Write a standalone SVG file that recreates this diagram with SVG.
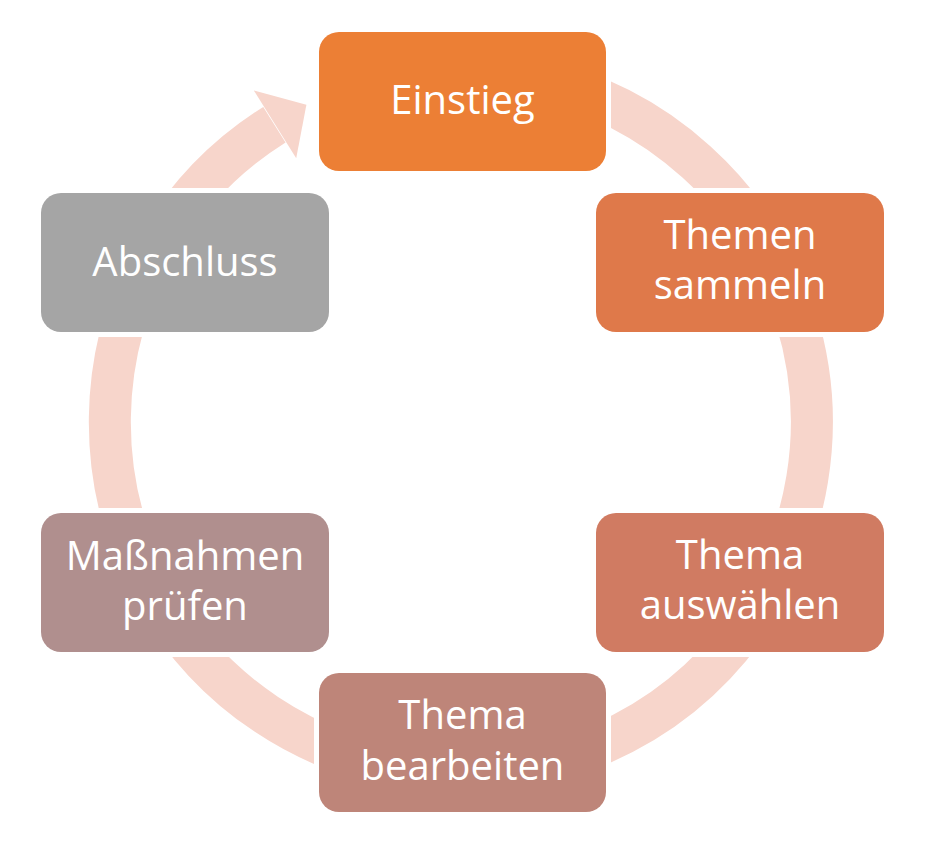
<svg xmlns="http://www.w3.org/2000/svg" width="931" height="858" viewBox="0 0 931 858">
  <style>
    .halo { fill: #ffffff; }
    .box { stroke: none; }
    .lbl { font-family: "Open Sans", "Liberation Sans", sans-serif; font-size: 40px; fill: #ffffff; text-anchor: middle; }
    .ring { fill: none; stroke: #F7D5CB; stroke-width: 42; }
  </style>
  <rect width="931" height="858" fill="#ffffff"/>
  <g id="connectors">
    <path class="ring" d="M 370.2 83.0 A 351 351 0 1 1 274.4 124.7"/>
    <polygon points="253.8,90.4 306.4,104.7 296.2,158.3" fill="#F7D5CB"/>
  </g>
  <g id="einstieg">
    <rect class="halo" x="314" y="27" width="297" height="149" rx="24"/>
    <rect class="box" x="319" y="32" width="287" height="139" rx="20" fill="#EC7F35"/>
    <text class="lbl" x="462.5" y="114">Einstieg</text>
  </g>
  <g id="themen-sammeln">
    <rect class="halo" x="591" y="188" width="298" height="149" rx="24"/>
    <rect class="box" x="596" y="193" width="288" height="139" rx="20" fill="#DF794A"/>
    <text class="lbl" x="740" y="249">Themen</text>
    <text class="lbl" x="740" y="299">sammeln</text>
  </g>
  <g id="thema-auswaehlen">
    <rect class="halo" x="591" y="508" width="298" height="149" rx="24"/>
    <rect class="box" x="596" y="513" width="288" height="139" rx="20" fill="#D07B62"/>
    <text class="lbl" x="740" y="569">Thema</text>
    <text class="lbl" x="740" y="619">auswählen</text>
  </g>
  <g id="thema-bearbeiten">
    <rect class="halo" x="314" y="668" width="297" height="149" rx="24"/>
    <rect class="box" x="319" y="673" width="287" height="139" rx="20" fill="#BE8579"/>
    <text class="lbl" x="462.5" y="729">Thema</text>
    <text class="lbl" x="462.5" y="780">bearbeiten</text>
  </g>
  <g id="massnahmen-pruefen">
    <rect class="halo" x="36" y="508" width="298" height="149" rx="24"/>
    <rect class="box" x="41" y="513" width="288" height="139" rx="20" fill="#B08F8E"/>
    <text class="lbl" x="185" y="570">Maßnahmen</text>
    <text class="lbl" x="185" y="620">prüfen</text>
  </g>
  <g id="abschluss">
    <rect class="halo" x="36" y="188" width="298" height="149" rx="24"/>
    <rect class="box" x="41" y="193" width="288" height="139" rx="20" fill="#A5A5A5"/>
    <text class="lbl" x="185" y="276">Abschluss</text>
  </g>
</svg>
